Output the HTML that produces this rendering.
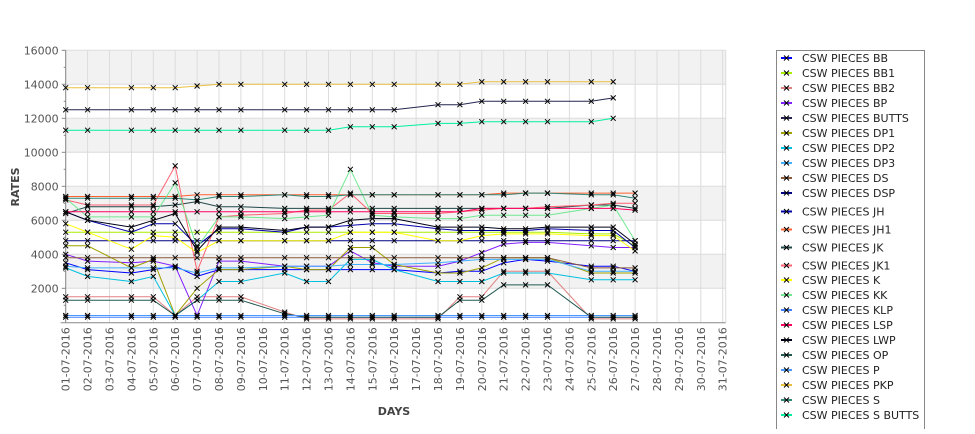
<!DOCTYPE html>
<html><head><meta charset="utf-8">
<style>
body{margin:0;background:#fff;width:975px;height:429px;overflow:hidden;font-family:"Liberation Sans","DejaVu Sans",sans-serif;}
svg text{font-family:"DejaVu Sans","Liberation Sans",sans-serif;}
</style></head>
<body>
<svg id="chart" width="975" height="429" xmlns="http://www.w3.org/2000/svg"></svg>
<script>
const categories=[];for(let d=1;d<=31;d++){categories.push((d<10?'0':'')+d+'-07-2016');}
const dataDays=[1,2,4,5,6,7,8,9,11,12,13,14,15,16,18,19,20,21,22,23,25,26,27];
const yTicks=[2000,4000,6000,8000,10000,12000,14000,16000];
const seriesNames=["CSW PIECES BB","CSW PIECES BB1","CSW PIECES BB2","CSW PIECES BP","CSW PIECES BUTTS","CSW PIECES DP1","CSW PIECES DP2","CSW PIECES DP3","CSW PIECES DS","CSW PIECES DSP","CSW PIECES JH","CSW PIECES JH1","CSW PIECES JK","CSW PIECES JK1","CSW PIECES K","CSW PIECES KK","CSW PIECES KLP","CSW PIECES LSP","CSW PIECES LWP","CSW PIECES OP","CSW PIECES P","CSW PIECES PKP","CSW PIECES S","CSW PIECES S BUTTS"];
const seriesColors=["#0000ff","#aaee00","#e08080","#8020ff","#252550","#a0a000","#00c0e0","#40b0ff","#8a5a3a","#000080","#0000a8","#ff6030","#204848","#ff6070","#ffff00","#70e890","#4080ff","#ff0060","#000018","#205850","#4898ff","#e8c040","#308878","#00f0a0"];
const sBB=[3500,3100,2900,3100,3300,2700,3100,3100,3100,3100,3100,3100,3100,3100,2900,3000,3000,3500,3700,3600,3300,3300,3000];
const sBB1=[5300,5300,5300,5300,5300,5300,5300,5300,5300,5300,5300,5300,5300,5300,5300,5300,5300,5300,5300,5300,5200,5200,4500];
const sBB2=[1500,1500,1500,1500,400,1500,1500,1500,600,200,200,200,200,200,200,1500,1500,3000,3000,3000,200,200,200];
const sBP=[4000,3600,3500,3600,3300,400,3600,3600,3300,3300,3300,4200,3500,3300,3300,3600,4100,4600,4700,4700,4500,4400,4400];
const sBUTTS=[12500,12500,12500,12500,12500,12500,12500,12500,12500,12500,12500,12500,12500,12500,12800,12800,13000,13000,13000,13000,13000,13200,null];
const sDP1=[4500,4500,3200,3700,400,2000,3100,3100,3300,3100,3100,4400,4400,3400,2900,2900,3200,3800,3800,3800,2900,2900,2900];
const sDP2=[3200,2700,2400,2700,400,1300,2400,2400,2900,2400,2400,3700,3700,3100,2400,2400,2400,2900,2900,2900,2500,2500,2500];
const sDP3=[3300,3200,3200,3200,3200,2900,3200,3200,3300,3300,3300,3400,3400,3400,3500,3600,3700,3700,3700,3700,3000,3000,3000];
const sDS=[3800,3800,3800,3800,3800,3800,3800,3800,3800,3800,3800,3800,3800,3800,3800,3800,3800,3800,3800,3800,3200,3200,3200];
const sDSP=[4800,4800,4800,4800,4800,4800,4800,4800,4800,4800,4800,4800,4800,4800,4800,4800,4800,4800,4800,4800,4800,4800,4800];
const sJH=[6500,6000,5300,5800,5800,4500,5500,5500,5300,5600,5600,5700,5800,5800,5500,5400,5400,5400,5400,5500,5400,5400,4400];
const sJH1=[7400,7400,7400,7400,7400,7500,7500,7500,7500,7500,7500,7500,7500,7500,7500,7500,7500,7600,7600,7600,7600,7600,7600];
const sJK=[6400,6800,6800,6800,6900,7100,6800,6800,6700,6700,6700,6700,6700,6700,6700,6700,6700,6700,6700,6700,6900,6900,6700];
const sJK1=[7200,6900,6900,6900,9200,3000,6200,6300,6400,6600,6600,7600,6400,6400,6400,6500,6600,6700,6700,6800,6900,7000,7000];
const sK=[5800,5300,4300,5100,5000,4100,4800,4800,4800,4800,4800,5300,5300,5300,4800,4800,5100,5200,5200,5200,5100,5100,4200];
const sKK=[7300,6200,6200,6200,8200,4400,6200,6200,6100,6200,6300,9000,6300,6200,6100,6100,6300,6300,6300,6300,6700,6900,4800];
const sKLP=[300,300,300,300,300,300,300,300,300,300,300,300,300,300,300,300,300,300,300,300,300,300,300];
const sLSP=[6500,6500,6500,6500,6500,6500,6500,6500,6500,6500,6500,6500,6500,6500,6500,6500,6700,6700,6700,6700,6700,6700,6600];
const sLWP=[6500,6000,5600,6000,6400,4200,5600,5600,5400,5600,5600,6000,6100,6100,5600,5600,5600,5500,5500,5600,5600,5600,4600];
const sOP=[1300,1300,1300,1300,400,1300,1300,1300,500,300,300,300,300,300,300,1300,1300,2200,2200,2200,300,300,300];
const sP=[400,400,400,400,400,400,400,400,400,400,400,400,400,400,400,400,400,400,400,400,400,400,400];
const sPKP=[13800,13800,13800,13800,13800,13900,14000,14000,14000,14000,14000,14000,14000,14000,14000,14000,14150,14150,14150,14150,14150,14150,null];
const sS=[7300,7300,7300,7300,7300,7200,7400,7400,7500,7400,7400,7500,7500,7500,7500,7500,7500,7500,7600,7600,7500,7500,7300];
const sSBUTTS=[11300,11300,11300,11300,11300,11300,11300,11300,11300,11300,11300,11500,11500,11500,11700,11700,11800,11800,11800,11800,11800,12000,null];
const seriesValues=[sBB,sBB1,sBB2,sBP,sBUTTS,sDP1,sDP2,sDP3,sDS,sDSP,sJH,sJH1,sJK,sJK1,sK,sKK,sKLP,sLSP,sLWP,sOP,sP,sPKP,sS,sSBUTTS];

const NS='http://www.w3.org/2000/svg';
const svg=document.getElementById('chart');
const L=65.7,R=725.7,T=50.3,B=322.3;
const step=(R-L-3)/30;
function xPos(day){return L+(day-1)*step;}
function yPos(v){return B-(v/16000)*(B-T);}
function mk(tag,attrs,parent){const e=document.createElementNS(NS,tag);for(const k in attrs)e.setAttribute(k,attrs[k]);(parent||svg).appendChild(e);return e;}

// bands
const bg=mk('g',{});


mk('rect',{x:L,y:T,width:R-L,height:B-T,fill:'#ffffff'},bg);
for(let v=2000;v<16000;v+=4000){mk('rect',{x:L,y:yPos(v+2000),width:R-L,height:yPos(v)-yPos(v+2000),fill:'#f2f2f2'},bg);}
const grid=mk('g',{stroke:'#dcdcdc','stroke-width':1});


yTicks.forEach(v=>{mk('line',{x1:L,x2:R,y1:yPos(v),y2:yPos(v)},grid);});
categories.forEach((c,i)=>{const x=xPos(i+1);mk('line',{x1:x,x2:x,y1:T,y2:B},grid);});
mk('line',{x1:R,x2:R,y1:T,y2:B},grid);

// axes
const yAxis=mk('g',{});


mk('line',{x1:L,x2:L,y1:T,y2:B,stroke:'#888','stroke-width':1},yAxis);
for(let v=1000;v<=16000;v+=1000){const y=yPos(v);const major=v%2000===0;mk('line',{x1:L-(major?4:2),x2:L,y1:y,y2:y,stroke:'#888'},yAxis);}
yTicks.forEach(v=>{const t=mk('text',{x:L-7,y:yPos(v)+4,'text-anchor':'end','font-size':'11',fill:'#555'},yAxis);t.textContent=v;

});
const xAxis=mk('g',{});


mk('line',{x1:L-5,x2:R,y1:B+0.5,y2:B+0.5,stroke:'#888'},xAxis);
categories.forEach((c,i)=>{const x=xPos(i+1);const t=mk('text',{x:0,y:0,transform:`translate(${x+4},${B+5}) rotate(-90)`,'text-anchor':'end','font-size':'11',fill:'#555'},xAxis);t.textContent=c;

});
const yt=mk('text',{x:0,y:0,transform:'translate(19,187) rotate(-90)','text-anchor':'middle','font-size':'11','font-weight':'bold',fill:'#444'});
yt.textContent='RATES';


const xt=mk('text',{x:394,y:415,'text-anchor':'middle','font-size':'11','font-weight':'bold',fill:'#444'});
xt.textContent='DAYS';



// series
function marker(x,y,g){mk('path',{d:`M${x-2.5},${y-2.5}L${x+2.5},${y+2.5}M${x-2.5},${y+2.5}L${x+2.5},${y-2.5}`,stroke:'#000','stroke-width':1,fill:'none'},g);}
const lines=mk('g',{});


const marks=mk('g',{});


seriesValues.forEach((vals,si)=>{
  const pts=[];
  vals.forEach((v,i)=>{if(v!==null)pts.push([xPos(dataDays[i]),yPos(v)]);});
  const p=mk('polyline',{points:pts.map(q=>q[0].toFixed(1)+','+q[1].toFixed(1)).join(' '),fill:'none',stroke:seriesColors[si],'stroke-width':1},lines);
  
  
  pts.forEach(q=>marker(q[0],q[1],marks));
});

// legend
const lg=mk('g',{});


mk('rect',{x:776.5,y:50.5,width:148,height:390,fill:'#fff',stroke:'#888'},lg);
const legendY=[58,73,88,103,118,133,148,163,178,193,211.5,229.5,247.5,265.5,280,295,310,325,340,355,370,385,400,415];
seriesNames.forEach((n,i)=>{
  const g=mk('g',{},lg);
  
  
  const y=legendY[i];
  mk('line',{x1:781,x2:792,y1:y,y2:y,stroke:seriesColors[i],'stroke-width':2},g);
  marker(786.5,y,g);
  const t=mk('text',{x:802,y:y+4,'font-size':'11',fill:'#222'},g);t.textContent=n;
});
</script>
</body></html>
